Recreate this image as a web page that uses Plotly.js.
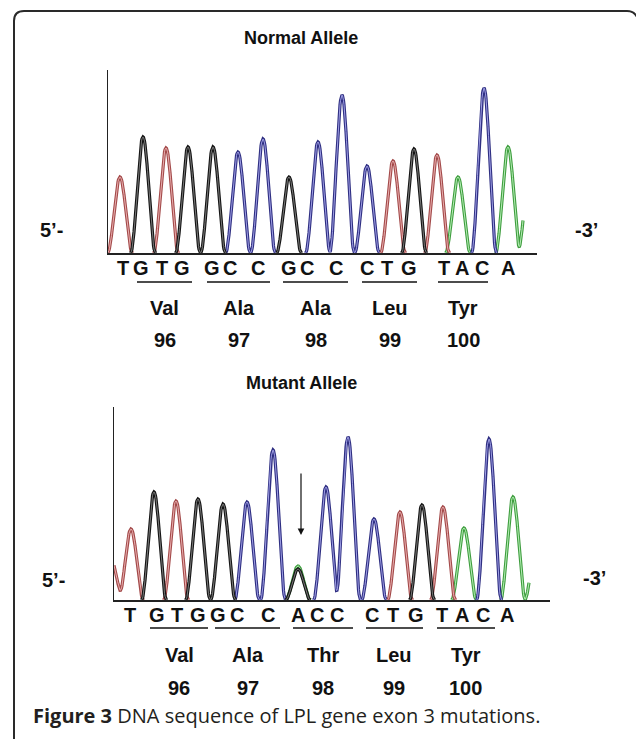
<!DOCTYPE html>
<html><head><meta charset="utf-8">
<script src="https://cdn.plot.ly/plotly-3.0.1.min.js"></script>
<style>html,body{margin:0;padding:0;background:#fff;} #chart{width:636px;height:739px;}</style>
</head><body><div id="chart"></div>
<script>
// ---------- DATA ----------
const normalBases      = ['T','G','T','G','G','C','C','G','C','C','C','T','G','T','A','C','A'];
const normalPeakPos    = [12,35,58,80,105,130,155,181,210,234,259,285,306,329,350,376,400];
const normalPeakHeight = [76,116,105,106,106,101,114,76,111,158,87,92,104,98,76,165,106];
const normalExtraBases  = ['A'];
const normalExtraPos    = [422];
const normalExtraHeight = [80];

const mutantBases      = ['T','G','T','G','G','C','C','A','C','C','C','T','G','T','A','C','A'];
const mutantPeakPos    = [17,40,62,84,109,133,159,184,212,234,260,286,308,329,350,375,399];
const mutantPeakHeight = [71,108,99,101,96,98,150,34,113,163,81,88,95,93,72,161,103];
const mutantExtraBases  = ['T','G','A'];
const mutantExtraPos    = [-3,184,423];
const mutantExtraHeight = [40,31,60];

const normalAminoAcids = ['Val','Ala','Ala','Leu','Tyr'];
const mutantAminoAcids = ['Val','Ala','Thr','Leu','Tyr'];
const codonNumbers     = ['96','97','98','99','100'];

// ---------- LAYOUT HELPERS ----------
const W = 636, H = 739;
const PX = x => x / W, PY = y => 1 - y / H;
const HALF = 12.5, STEP = 0.5, XMAX = 415;
const baseOrder = ['A','C','T','G'];
const baseStyle = {
  T: {outer:'#a34a4a', inner:'#eab0b0'},
  G: {outer:'#151515', inner:'#7a7a7a'},
  C: {outer:'#2f2f82', inner:'#a0a0e6'},
  A: {outer:'#3f9d3f', inner:'#b6f0b6'}
};

function signal(bases, pos, hts, base, xs) {
  return xs.map(x => {
    let s = 0;
    for (let i = 0; i < bases.length; i++) {
      if (bases[i] !== base) continue;
      const d = Math.abs(x - pos[i]);
      if (d < HALF) { const c = Math.cos(Math.PI * d / (2 * HALF)); s += hts[i] * c * c; }
    }
    return s;
  });
}
function trim(v) {
  const z = i => (i < 0 || i >= v.length) ? true : v[i] < 1e-6;
  return v.map((y, i) => (z(i) && z(i - 1) && z(i + 1)) ? null : y);
}

const xs = [];
for (let x = 0; x <= XMAX + 1e-9; x += STEP) xs.push(+x.toFixed(2));

const traces = [];
function addPanel(bases, pos, hts, eb, ep, eh, xa, ya) {
  const allB = bases.concat(eb), allP = pos.concat(ep), allH = hts.concat(eh);
  baseOrder.forEach(b => {
    const y = trim(signal(allB, allP, allH, b, xs));
    traces.push({x: xs, y: y, xaxis: xa, yaxis: ya, mode: 'lines', hoverinfo: 'skip',
      line: {color: baseStyle[b].outer, width: 3.2}, showlegend: false, connectgaps: false});
    traces.push({x: xs, y: y, xaxis: xa, yaxis: ya, mode: 'lines', hoverinfo: 'skip',
      line: {color: baseStyle[b].inner, width: 1}, showlegend: false, connectgaps: false});
  });
}
addPanel(normalBases, normalPeakPos, normalPeakHeight, normalExtraBases, normalExtraPos, normalExtraHeight, 'x', 'y');
addPanel(mutantBases, mutantPeakPos, mutantPeakHeight, mutantExtraBases, mutantExtraPos, mutantExtraHeight, 'x2', 'y2');

// ---------- TEXT ----------
const boldFont = (s) => ({family: 'Liberation Sans, Arial, sans-serif', size: s, color: '#111'});
const ann = [];
function txt(x, y, t, size, anchor) {
  ann.push({xref: 'paper', yref: 'paper', x: PX(x), y: PY(y), text: '<b>' + t + '</b>',
    showarrow: false, xanchor: anchor || 'center', yanchor: 'middle', font: boldFont(size)});
}
txt(301, 38, 'Normal Allele', 18);
txt(301, 383, 'Mutant Allele', 18);
txt(38, 230, '5’-', 20, 'left');
txt(573, 230, '-3’', 20, 'left');
txt(40, 580, '5’-', 20, 'left');
txt(581, 578, '-3’', 20, 'left');

const normalLetterX = [123,141,162,182,212,230,258,289,307,336,367,387,409,444,462,482,508];
const mutantLetterX = [130,157,177,198,218,237,268,298,317,337,372,393,416,442,462,483,507];
normalBases.forEach((b, i) => txt(normalLetterX[i], 268, b, 20));
mutantBases.forEach((b, i) => txt(mutantLetterX[i], 615, b, 20));

const normalCodonSpan = [[137,192],[207,270],[283,348],[362,417],[438,488]];
const mutantCodonSpan = [[150,208],[215,280],[293,353],[366,423],[437,495]];
const shapes = [];
function codons(spans, lineY, aaY, numY, aas) {
  spans.forEach((s, i) => {
    shapes.push({type: 'line', xref: 'paper', yref: 'paper', x0: PX(s[0]), x1: PX(s[1]), y0: PY(lineY), y1: PY(lineY),
      line: {color: '#111', width: 1.6}});
    const c = (s[0] + s[1]) / 2;
    txt(c, aaY, aas[i], 20);
    txt(c, numY, codonNumbers[i], 20);
  });
}
codons(normalCodonSpan, 282, 308, 340, normalAminoAcids);
codons(mutantCodonSpan, 628, 655, 688, mutantAminoAcids);

// mutation arrow
ann.push({xref: 'paper', yref: 'paper', x: PX(301), y: PY(535), ax: 0, ay: -63, axref: 'pixel', ayref: 'pixel',
  showarrow: true, arrowhead: 2, arrowsize: 1.1, arrowwidth: 1.2, arrowcolor: '#111', text: ''});

// caption
ann.push({xref: 'paper', yref: 'paper', x: PX(31), y: PY(715), xanchor: 'left', yanchor: 'middle', showarrow: false,
  text: '<b>Figure 3</b> DNA sequence of LPL gene exon 3 mutations.',
  font: {family: 'Open Sans, Noto Sans, sans-serif', size: 20, color: '#231f20'}});

// rounded frame
shapes.push({type: 'path', xref: 'paper', yref: 'paper', layer: 'below',
  path: `M ${PX(14)} ${PY(745)} L ${PX(14)} ${PY(21)} Q ${PX(14)} ${PY(11)} ${PX(24)} ${PY(11)} L ${PX(627)} ${PY(11)} Q ${PX(634)} ${PY(11)} ${PX(637)} ${PY(17)}`,
  line: {color: '#2a2a2a', width: 2}});

const axX = (d0, d1, r) => ({domain: [PX(d0), PX(d1)], range: r, showline: true, linecolor: '#222', linewidth: 1.6,
  showgrid: false, zeroline: false, showticklabels: false, ticks: '', fixedrange: true, layer: 'above traces'});
const axY = (d0, d1, r, anchor) => ({domain: [PY(d1), PY(d0)], range: r, showline: true, linecolor: '#222', linewidth: 1,
  showgrid: false, zeroline: false, showticklabels: false, ticks: '', fixedrange: true, anchor: anchor, layer: 'above traces'});

const layout = {
  width: W, height: H, margin: {l: 0, r: 0, t: 0, b: 0},
  paper_bgcolor: '#fff', plot_bgcolor: 'rgba(0,0,0,0)',
  xaxis: Object.assign(axX(108, 537, [0, 429]), {anchor: 'y'}),
  yaxis: axY(70, 253, [0, 183], 'x'),
  xaxis2: Object.assign(axX(114, 550, [0, 436]), {anchor: 'y2'}),
  yaxis2: axY(407, 600, [0, 193], 'x2'),
  annotations: ann, shapes: shapes, showlegend: false
};
Plotly.newPlot('chart', traces, layout, {staticPlot: true, displayModeBar: false});
</script></body></html>
